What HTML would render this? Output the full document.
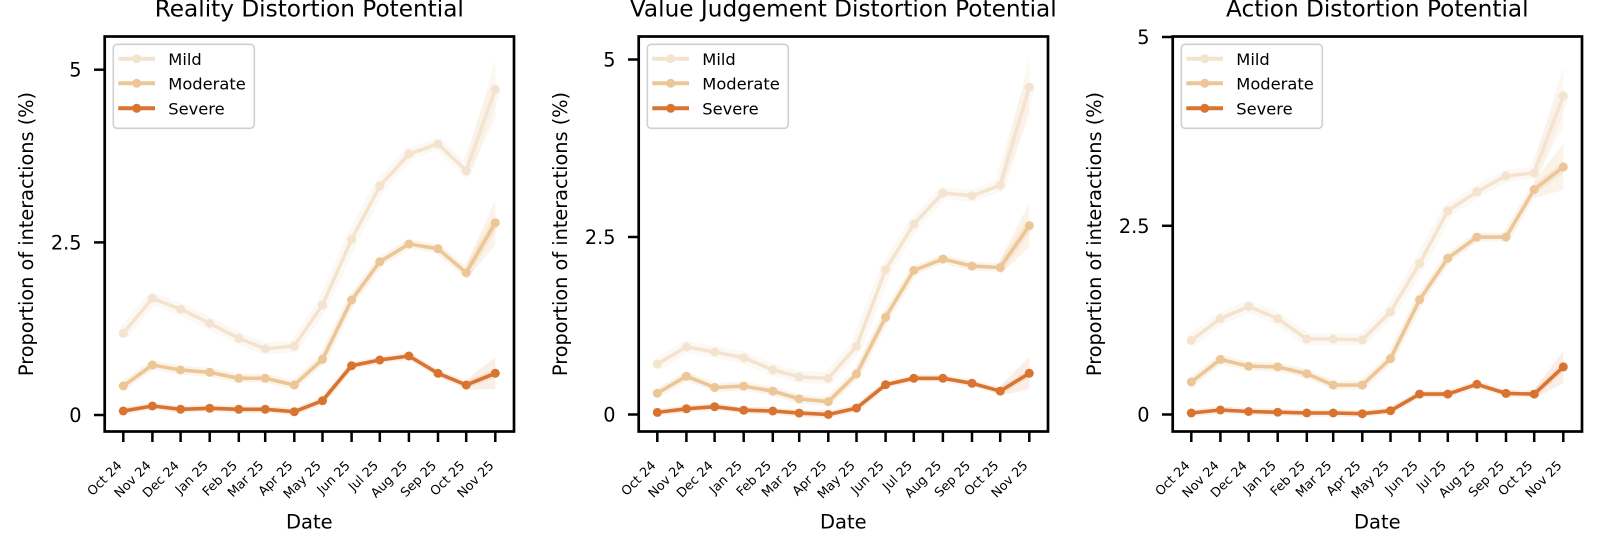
<!DOCTYPE html>
<html>
<head>
<meta charset="utf-8">
<style>
html,body{margin:0;padding:0;background:#fff;}
svg{display:block;}
text{font-family:"DejaVu Sans","Liberation Sans",sans-serif;fill:#000;}
.tt{font-size:23.2px;text-anchor:middle;}
.yl{font-size:19.3px;text-anchor:middle;}
.xl{font-size:19.5px;text-anchor:middle;}
.yt{font-size:19.3px;text-anchor:end;}
.xt{font-size:12.8px;text-anchor:end;}
.lg{font-size:16.3px;}
.sp{fill:none;stroke:#000;stroke-width:2.7;}
.tk{stroke:#000;stroke-width:2.5;}
.mild{fill:none;stroke:#f4e4cf;stroke-width:3.6;stroke-linejoin:round;marker-start:url(#mM);marker-mid:url(#mM);marker-end:url(#mM);}
.mod{fill:none;stroke:#ecc696;stroke-width:3.6;stroke-linejoin:round;marker-start:url(#mD);marker-mid:url(#mD);marker-end:url(#mD);}
.sev{fill:none;stroke:#d87430;stroke-width:3.6;stroke-linejoin:round;marker-start:url(#mS);marker-mid:url(#mS);marker-end:url(#mS);}
.bM{fill:none;stroke:#f4e4cf;stroke-width:12;stroke-opacity:0.25;stroke-linejoin:round;}
.bD{fill:none;stroke:#ecc696;stroke-width:9;stroke-opacity:0.2;stroke-linejoin:round;}
.bS{fill:none;stroke:#d87430;stroke-width:7;stroke-opacity:0.12;stroke-linejoin:round;}
.pM{fill:#f4e4cf;fill-opacity:0.3;}
.pD{fill:#ecc696;fill-opacity:0.22;}
.pS{fill:#d87430;fill-opacity:0.12;}
.lb{fill:#fff;fill-opacity:0.8;stroke:#d0d0d0;stroke-width:1.6;}
</style>
</head>
<body>
<svg width="1600" height="541" viewBox="0 0 1600 541" xmlns="http://www.w3.org/2000/svg">
<defs>
<marker id="mM" viewBox="-6 -6 12 12" markerWidth="12" markerHeight="12" markerUnits="userSpaceOnUse" refX="0" refY="0"><circle r="4.5" fill="#f4e4cf"/></marker>
<marker id="mD" viewBox="-6 -6 12 12" markerWidth="12" markerHeight="12" markerUnits="userSpaceOnUse" refX="0" refY="0"><circle r="4.5" fill="#ecc696"/></marker>
<marker id="mS" viewBox="-6 -6 12 12" markerWidth="12" markerHeight="12" markerUnits="userSpaceOnUse" refX="0" refY="0"><circle r="4.5" fill="#d87430"/></marker>
</defs>
<rect width="1600" height="541" fill="#fff"/>

<!-- ================= PANEL 1 ================= -->
<text class="tt" x="309.3" y="16.7">Reality Distortion Potential</text>
<!-- bands -->
<polyline class="bM" points="123.3,333.3 152.4,298.3 180.6,309.3 209.7,323.3 238.8,338.3 265.2,348.7 294.3,346 322.5,305 351.6,239.3 379.8,186 408.9,154 438.0,144 466.2,170.7 495.3,89.3"/>
<polygon class="pM" points="466.2,160 495.3,60 495.3,118 466.2,180"/>
<polyline class="bD" points="123.3,386 152.4,365 180.6,370 209.7,372.3 238.8,378.3 265.2,378.3 294.3,385 322.5,359.3 351.6,300 379.8,261.7 408.9,244 438.0,248.7 466.2,272.7 495.3,222.7"/>
<polygon class="pD" points="466.2,265 495.3,200 495.3,245 466.2,280"/>
<polyline class="bS" points="123.3,411 152.4,406 180.6,409.3 209.7,408.3 238.8,409.3 265.2,409.3 294.3,411.7 322.5,400.7 351.6,365.7 379.8,360 408.9,356 438.0,373.3 466.2,385 495.3,373.3"/>
<polygon class="pS" points="466.2,380 495.3,357 495.3,389 466.2,390"/>
<!-- lines -->
<polyline class="mild" points="123.3,333.3 152.4,298.3 180.6,309.3 209.7,323.3 238.8,338.3 265.2,348.7 294.3,346 322.5,305 351.6,239.3 379.8,186 408.9,154 438.0,144 466.2,170.7 495.3,89.3"/>
<polyline class="mod" points="123.3,386 152.4,365 180.6,370 209.7,372.3 238.8,378.3 265.2,378.3 294.3,385 322.5,359.3 351.6,300 379.8,261.7 408.9,244 438.0,248.7 466.2,272.7 495.3,222.7"/>
<polyline class="sev" points="123.3,411 152.4,406 180.6,409.3 209.7,408.3 238.8,409.3 265.2,409.3 294.3,411.7 322.5,400.7 351.6,365.7 379.8,360 408.9,356 438.0,373.3 466.2,385 495.3,373.3"/>
<!-- spines -->
<rect class="sp" x="104.7" y="36.5" width="409.3" height="395"/>
<!-- y ticks -->
<line class="tk" x1="94" y1="415" x2="104.7" y2="415"/>
<line class="tk" x1="94" y1="242.4" x2="104.7" y2="242.4"/>
<line class="tk" x1="94" y1="69.7" x2="104.7" y2="69.7"/>
<text class="yt" x="81.5" y="422">0</text>
<text class="yt" x="81.5" y="249.4">2.5</text>
<text class="yt" x="81.5" y="76.7">5</text>
<!-- x ticks -->
<g class="tk">
<line x1="123.3" y1="431.5" x2="123.3" y2="442"/><line x1="152.4" y1="431.5" x2="152.4" y2="442"/><line x1="180.6" y1="431.5" x2="180.6" y2="442"/><line x1="209.7" y1="431.5" x2="209.7" y2="442"/><line x1="238.8" y1="431.5" x2="238.8" y2="442"/><line x1="265.2" y1="431.5" x2="265.2" y2="442"/><line x1="294.3" y1="431.5" x2="294.3" y2="442"/><line x1="322.5" y1="431.5" x2="322.5" y2="442"/><line x1="351.6" y1="431.5" x2="351.6" y2="442"/><line x1="379.8" y1="431.5" x2="379.8" y2="442"/><line x1="408.9" y1="431.5" x2="408.9" y2="442"/><line x1="438.0" y1="431.5" x2="438.0" y2="442"/><line x1="466.2" y1="431.5" x2="466.2" y2="442"/><line x1="495.3" y1="431.5" x2="495.3" y2="442"/>
</g>
<text class="xt" transform="translate(122.5,466.3) rotate(-45)">Oct 24</text>
<text class="xt" transform="translate(151.6,466.3) rotate(-45)">Nov 24</text>
<text class="xt" transform="translate(179.8,466.3) rotate(-45)">Dec 24</text>
<text class="xt" transform="translate(208.9,466.3) rotate(-45)">Jan 25</text>
<text class="xt" transform="translate(238.0,466.3) rotate(-45)">Feb 25</text>
<text class="xt" transform="translate(264.4,466.3) rotate(-45)">Mar 25</text>
<text class="xt" transform="translate(293.5,466.3) rotate(-45)">Apr 25</text>
<text class="xt" transform="translate(321.7,466.3) rotate(-45)">May 25</text>
<text class="xt" transform="translate(350.8,466.3) rotate(-45)">Jun 25</text>
<text class="xt" transform="translate(379.0,466.3) rotate(-45)">Jul 25</text>
<text class="xt" transform="translate(408.1,466.3) rotate(-45)">Aug 25</text>
<text class="xt" transform="translate(437.2,466.3) rotate(-45)">Sep 25</text>
<text class="xt" transform="translate(465.4,466.3) rotate(-45)">Oct 25</text>
<text class="xt" transform="translate(494.5,466.3) rotate(-45)">Nov 25</text>
<text class="xl" x="309.3" y="528.3">Date</text>
<text class="yl" transform="translate(33,234) rotate(-90)">Proportion of interactions (%)</text>
<!-- legend -->
<rect class="lb" x="113.3" y="44.3" width="141" height="84" rx="4"/>
<line x1="118.3" y1="58.7" x2="155" y2="58.7" stroke="#f4e4cf" stroke-width="4"/><circle cx="136.7" cy="58.7" r="4.5" fill="#f4e4cf"/>
<line x1="118.3" y1="83.3" x2="155" y2="83.3" stroke="#ecc696" stroke-width="4"/><circle cx="136.7" cy="83.3" r="4.5" fill="#ecc696"/>
<line x1="118.3" y1="108.3" x2="155" y2="108.3" stroke="#d87430" stroke-width="4"/><circle cx="136.7" cy="108.3" r="4.5" fill="#d87430"/>
<text class="lg" x="168.3" y="65">Mild</text>
<text class="lg" x="168.3" y="89.7">Moderate</text>
<text class="lg" x="168.3" y="114.3">Severe</text>

<!-- ================= PANEL 2 ================= -->
<text class="tt" x="843.3" y="16.7">Value Judgement Distortion Potential</text>
<polyline class="bM" points="657.3,364.1 686.4,347.0 714.6,352.0 743.7,357.7 772.8,369.8 799.2,376.9 828.3,378.3 856.5,346.3 885.6,269.7 913.8,224.2 942.9,193.0 972.0,195.8 1000.2,185.2 1029.3,87.2"/>
<polygon class="pM" points="1000.2,176 1029.3,58 1029.3,116 1000.2,194"/>
<polyline class="bD" points="657.3,393.2 686.4,376.2 714.6,387.5 743.7,386.1 772.8,391.1 799.2,398.9 828.3,401.7 856.5,374.0 885.6,317.2 913.8,270.4 942.9,259.0 972.0,266.1 1000.2,267.5 1029.3,225.6"/>
<polygon class="pD" points="1000.2,260 1029.3,203 1029.3,247 1000.2,275"/>
<polyline class="bS" points="657.3,412.4 686.4,408.8 714.6,406.7 743.7,410.2 772.8,411.0 799.2,413.1 828.3,414.5 856.5,408.1 885.6,384.7 913.8,378.3 942.9,378.3 972.0,383.3 1000.2,391.1 1029.3,373.3"/>
<polygon class="pS" points="1000.2,386 1029.3,357 1029.3,389 1000.2,396"/>
<polyline class="mild" points="657.3,364.1 686.4,347.0 714.6,352.0 743.7,357.7 772.8,369.8 799.2,376.9 828.3,378.3 856.5,346.3 885.6,269.7 913.8,224.2 942.9,193.0 972.0,195.8 1000.2,185.2 1029.3,87.2"/>
<polyline class="mod" points="657.3,393.2 686.4,376.2 714.6,387.5 743.7,386.1 772.8,391.1 799.2,398.9 828.3,401.7 856.5,374.0 885.6,317.2 913.8,270.4 942.9,259.0 972.0,266.1 1000.2,267.5 1029.3,225.6"/>
<polyline class="sev" points="657.3,412.4 686.4,408.8 714.6,406.7 743.7,410.2 772.8,411.0 799.2,413.1 828.3,414.5 856.5,408.1 885.6,384.7 913.8,378.3 942.9,378.3 972.0,383.3 1000.2,391.1 1029.3,373.3"/>
<rect class="sp" x="638.7" y="36.5" width="409.3" height="395"/>
<line class="tk" x1="628" y1="414.5" x2="638.7" y2="414.5"/>
<line class="tk" x1="628" y1="237" x2="638.7" y2="237"/>
<line class="tk" x1="628" y1="59.5" x2="638.7" y2="59.5"/>
<text class="yt" x="615.5" y="421.5">0</text>
<text class="yt" x="615.5" y="244">2.5</text>
<text class="yt" x="615.5" y="66.5">5</text>
<g class="tk">
<line x1="657.3" y1="431.5" x2="657.3" y2="442"/><line x1="686.4" y1="431.5" x2="686.4" y2="442"/><line x1="714.6" y1="431.5" x2="714.6" y2="442"/><line x1="743.7" y1="431.5" x2="743.7" y2="442"/><line x1="772.8" y1="431.5" x2="772.8" y2="442"/><line x1="799.2" y1="431.5" x2="799.2" y2="442"/><line x1="828.3" y1="431.5" x2="828.3" y2="442"/><line x1="856.5" y1="431.5" x2="856.5" y2="442"/><line x1="885.6" y1="431.5" x2="885.6" y2="442"/><line x1="913.8" y1="431.5" x2="913.8" y2="442"/><line x1="942.9" y1="431.5" x2="942.9" y2="442"/><line x1="972.0" y1="431.5" x2="972.0" y2="442"/><line x1="1000.2" y1="431.5" x2="1000.2" y2="442"/><line x1="1029.3" y1="431.5" x2="1029.3" y2="442"/>
</g>
<text class="xt" transform="translate(656.5,466.3) rotate(-45)">Oct 24</text>
<text class="xt" transform="translate(685.6,466.3) rotate(-45)">Nov 24</text>
<text class="xt" transform="translate(713.8,466.3) rotate(-45)">Dec 24</text>
<text class="xt" transform="translate(742.9,466.3) rotate(-45)">Jan 25</text>
<text class="xt" transform="translate(772.0,466.3) rotate(-45)">Feb 25</text>
<text class="xt" transform="translate(798.4,466.3) rotate(-45)">Mar 25</text>
<text class="xt" transform="translate(827.5,466.3) rotate(-45)">Apr 25</text>
<text class="xt" transform="translate(855.7,466.3) rotate(-45)">May 25</text>
<text class="xt" transform="translate(884.8,466.3) rotate(-45)">Jun 25</text>
<text class="xt" transform="translate(913.0,466.3) rotate(-45)">Jul 25</text>
<text class="xt" transform="translate(942.1,466.3) rotate(-45)">Aug 25</text>
<text class="xt" transform="translate(971.2,466.3) rotate(-45)">Sep 25</text>
<text class="xt" transform="translate(999.4,466.3) rotate(-45)">Oct 25</text>
<text class="xt" transform="translate(1028.5,466.3) rotate(-45)">Nov 25</text>
<text class="xl" x="843.3" y="528.3">Date</text>
<text class="yl" transform="translate(567,234) rotate(-90)">Proportion of interactions (%)</text>
<rect class="lb" x="647.3" y="44.3" width="141" height="84" rx="4"/>
<line x1="652.3" y1="58.7" x2="689" y2="58.7" stroke="#f4e4cf" stroke-width="4"/><circle cx="670.7" cy="58.7" r="4.5" fill="#f4e4cf"/>
<line x1="652.3" y1="83.3" x2="689" y2="83.3" stroke="#ecc696" stroke-width="4"/><circle cx="670.7" cy="83.3" r="4.5" fill="#ecc696"/>
<line x1="652.3" y1="108.3" x2="689" y2="108.3" stroke="#d87430" stroke-width="4"/><circle cx="670.7" cy="108.3" r="4.5" fill="#d87430"/>
<text class="lg" x="702.3" y="65">Mild</text>
<text class="lg" x="702.3" y="89.7">Moderate</text>
<text class="lg" x="702.3" y="114.3">Severe</text>

<!-- ================= PANEL 3 ================= -->
<text class="tt" x="1377.3" y="16.7">Action Distortion Potential</text>
<polyline class="bM" points="1191.3,340.5 1220.4,318.6 1248.6,306.5 1277.7,318.6 1306.8,339.0 1333.2,339.0 1362.3,339.8 1390.5,311.8 1419.6,263.5 1447.8,210.7 1476.9,191.8 1506.0,175.9 1534.2,172.9 1563.3,95.9"/>
<polygon class="pM" points="1534.2,163 1563.3,66 1563.3,126 1534.2,182"/>
<polyline class="bD" points="1191.3,382.0 1220.4,359.4 1248.6,366.2 1277.7,366.9 1306.8,373.7 1333.2,385.1 1362.3,385.1 1390.5,358.6 1419.6,299.7 1447.8,258.2 1476.9,237.1 1506.0,237.1 1534.2,189.5 1563.3,166.9"/>
<polygon class="pD" points="1534.2,181 1563.3,144 1563.3,190 1534.2,198"/>
<polyline class="bS" points="1191.3,413.0 1220.4,410.0 1248.6,411.5 1277.7,412.2 1306.8,413.0 1333.2,413.0 1362.3,413.7 1390.5,410.7 1419.6,394.1 1447.8,394.1 1476.9,384.3 1506.0,393.4 1534.2,394.1 1563.3,366.9"/>
<polygon class="pS" points="1534.2,389 1563.3,351 1563.3,383 1534.2,399"/>
<polyline class="mild" points="1191.3,340.5 1220.4,318.6 1248.6,306.5 1277.7,318.6 1306.8,339.0 1333.2,339.0 1362.3,339.8 1390.5,311.8 1419.6,263.5 1447.8,210.7 1476.9,191.8 1506.0,175.9 1534.2,172.9 1563.3,95.9"/>
<polyline class="mod" points="1191.3,382.0 1220.4,359.4 1248.6,366.2 1277.7,366.9 1306.8,373.7 1333.2,385.1 1362.3,385.1 1390.5,358.6 1419.6,299.7 1447.8,258.2 1476.9,237.1 1506.0,237.1 1534.2,189.5 1563.3,166.9"/>
<polyline class="sev" points="1191.3,413.0 1220.4,410.0 1248.6,411.5 1277.7,412.2 1306.8,413.0 1333.2,413.0 1362.3,413.7 1390.5,410.7 1419.6,394.1 1447.8,394.1 1476.9,384.3 1506.0,393.4 1534.2,394.1 1563.3,366.9"/>
<rect class="sp" x="1172.7" y="36.5" width="409.3" height="395"/>
<line class="tk" x1="1162" y1="414.5" x2="1172.7" y2="414.5"/>
<line class="tk" x1="1162" y1="225.8" x2="1172.7" y2="225.8"/>
<line class="tk" x1="1162" y1="37" x2="1172.7" y2="37"/>
<text class="yt" x="1149.5" y="421.5">0</text>
<text class="yt" x="1149.5" y="232.8">2.5</text>
<text class="yt" x="1149.5" y="44">5</text>
<g class="tk">
<line x1="1191.3" y1="431.5" x2="1191.3" y2="442"/><line x1="1220.4" y1="431.5" x2="1220.4" y2="442"/><line x1="1248.6" y1="431.5" x2="1248.6" y2="442"/><line x1="1277.7" y1="431.5" x2="1277.7" y2="442"/><line x1="1306.8" y1="431.5" x2="1306.8" y2="442"/><line x1="1333.2" y1="431.5" x2="1333.2" y2="442"/><line x1="1362.3" y1="431.5" x2="1362.3" y2="442"/><line x1="1390.5" y1="431.5" x2="1390.5" y2="442"/><line x1="1419.6" y1="431.5" x2="1419.6" y2="442"/><line x1="1447.8" y1="431.5" x2="1447.8" y2="442"/><line x1="1476.9" y1="431.5" x2="1476.9" y2="442"/><line x1="1506.0" y1="431.5" x2="1506.0" y2="442"/><line x1="1534.2" y1="431.5" x2="1534.2" y2="442"/><line x1="1563.3" y1="431.5" x2="1563.3" y2="442"/>
</g>
<text class="xt" transform="translate(1190.5,466.3) rotate(-45)">Oct 24</text>
<text class="xt" transform="translate(1219.6,466.3) rotate(-45)">Nov 24</text>
<text class="xt" transform="translate(1247.8,466.3) rotate(-45)">Dec 24</text>
<text class="xt" transform="translate(1276.9,466.3) rotate(-45)">Jan 25</text>
<text class="xt" transform="translate(1306.0,466.3) rotate(-45)">Feb 25</text>
<text class="xt" transform="translate(1332.4,466.3) rotate(-45)">Mar 25</text>
<text class="xt" transform="translate(1361.5,466.3) rotate(-45)">Apr 25</text>
<text class="xt" transform="translate(1389.7,466.3) rotate(-45)">May 25</text>
<text class="xt" transform="translate(1418.8,466.3) rotate(-45)">Jun 25</text>
<text class="xt" transform="translate(1447.0,466.3) rotate(-45)">Jul 25</text>
<text class="xt" transform="translate(1476.1,466.3) rotate(-45)">Aug 25</text>
<text class="xt" transform="translate(1505.2,466.3) rotate(-45)">Sep 25</text>
<text class="xt" transform="translate(1533.4,466.3) rotate(-45)">Oct 25</text>
<text class="xt" transform="translate(1562.5,466.3) rotate(-45)">Nov 25</text>
<text class="xl" x="1377.3" y="528.3">Date</text>
<text class="yl" transform="translate(1101,234) rotate(-90)">Proportion of interactions (%)</text>
<rect class="lb" x="1181.3" y="44.3" width="141" height="84" rx="4"/>
<line x1="1186.3" y1="58.7" x2="1223" y2="58.7" stroke="#f4e4cf" stroke-width="4"/><circle cx="1204.7" cy="58.7" r="4.5" fill="#f4e4cf"/>
<line x1="1186.3" y1="83.3" x2="1223" y2="83.3" stroke="#ecc696" stroke-width="4"/><circle cx="1204.7" cy="83.3" r="4.5" fill="#ecc696"/>
<line x1="1186.3" y1="108.3" x2="1223" y2="108.3" stroke="#d87430" stroke-width="4"/><circle cx="1204.7" cy="108.3" r="4.5" fill="#d87430"/>
<text class="lg" x="1236.3" y="65">Mild</text>
<text class="lg" x="1236.3" y="89.7">Moderate</text>
<text class="lg" x="1236.3" y="114.3">Severe</text>
</svg>
</body>
</html>
